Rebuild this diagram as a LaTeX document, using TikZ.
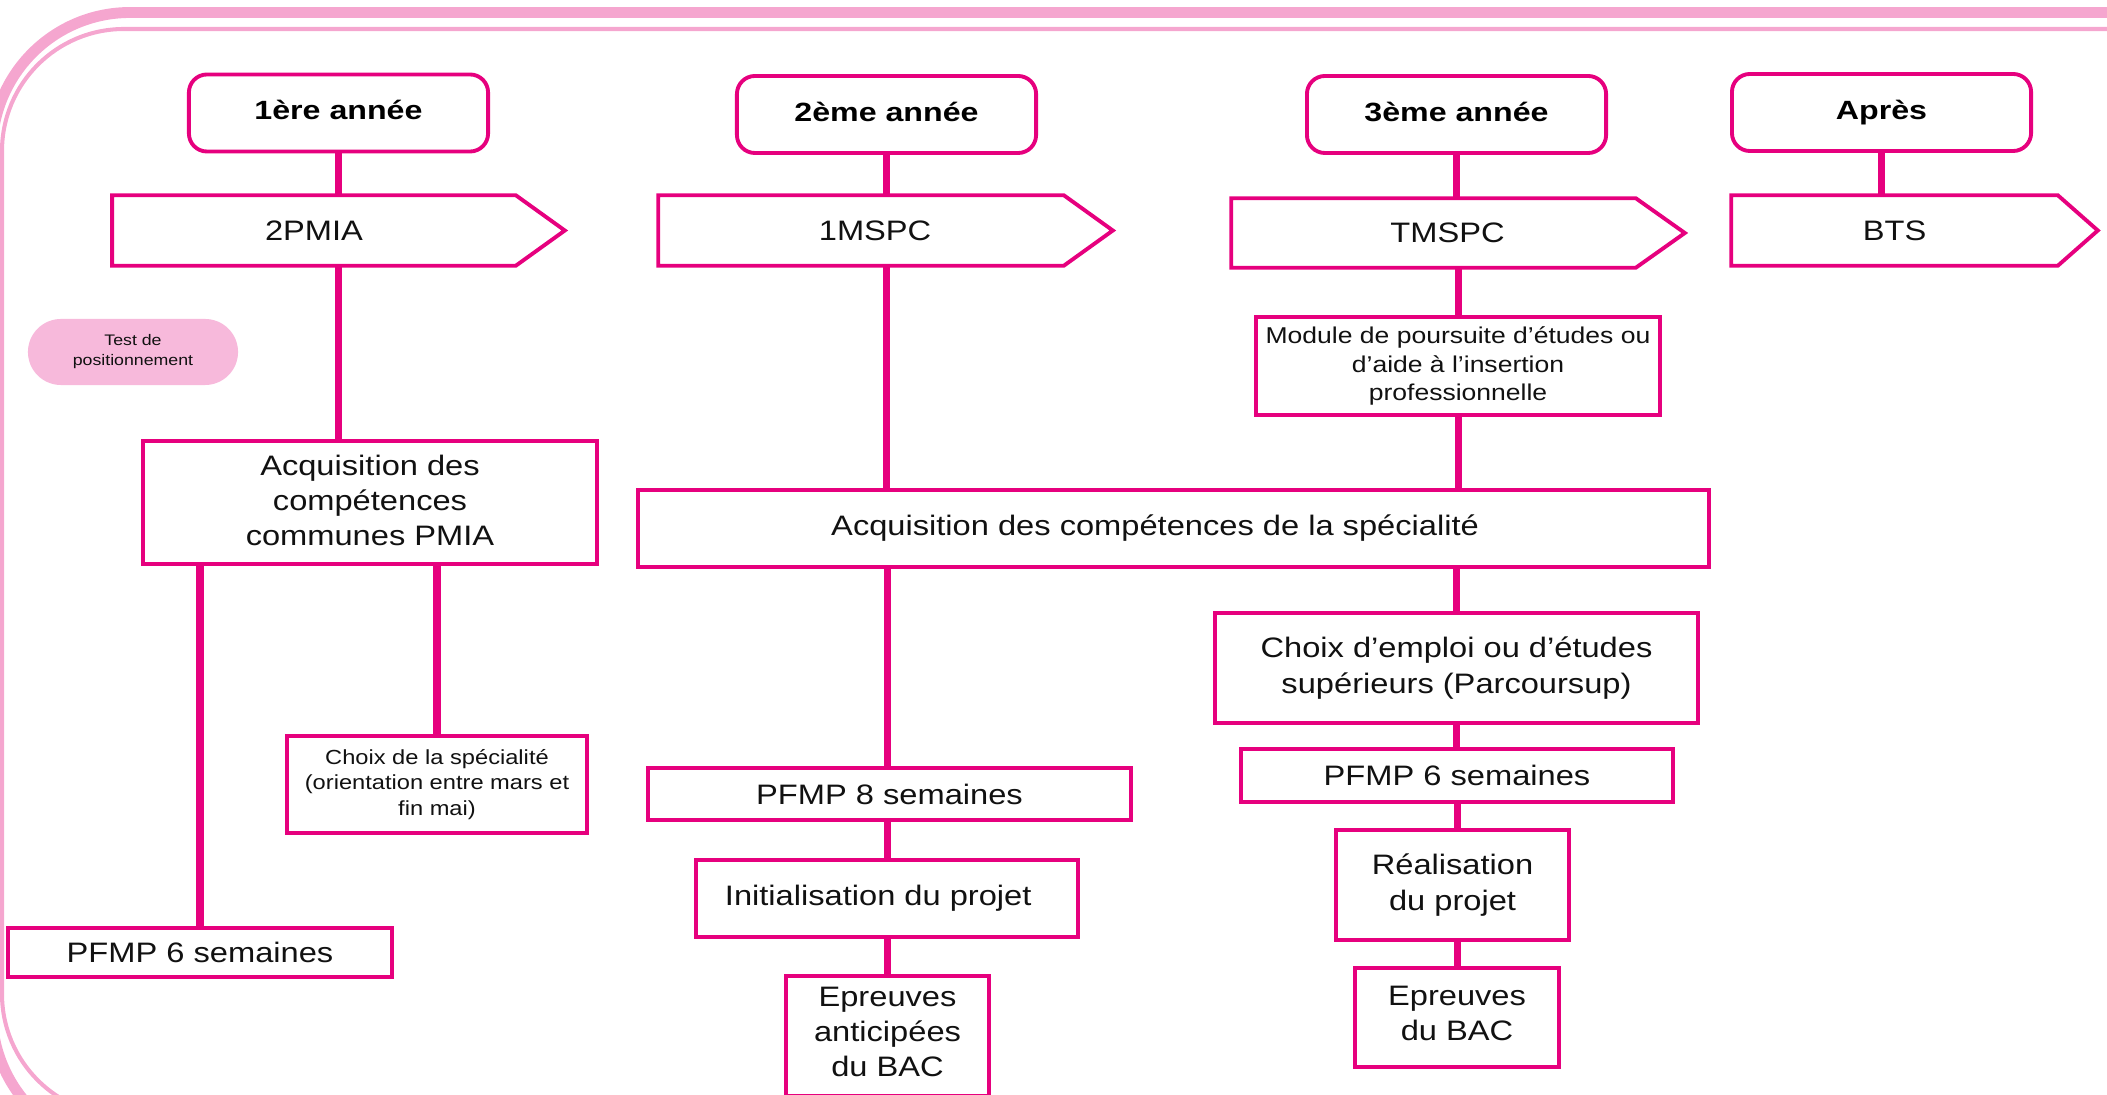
\documentclass[tikz,border=0pt]{standalone}
\usepackage{fontspec}
\setmainfont[FakeStretch=1.16]{Liberation Sans}
\newfontfamily\hdfont[FakeStretch=1.22]{Liberation Sans}
\usetikzlibrary{calc}
\definecolor{mag}{HTML}{E6007E}
\definecolor{pinkline}{HTML}{F5A6CF}
\definecolor{pinkfill}{HTML}{F7B9DB}
\definecolor{txt}{HTML}{111111}
\begin{document}
\begin{tikzpicture}[x=0.01cm,y=-0.01cm,
  box/.style={draw=mag,line width=1.1pt,fill=white,inner sep=0pt,align=center,text=txt,font=\fontsize{8}{10}\selectfont},
  head/.style={box,rounded corners=0.18cm,minimum width=2.99cm,minimum height=0.77cm,font=\hdfont\bfseries\fontsize{7.5}{9}\selectfont,text=black},
  sign/.style={inner sep=0pt,align=center,text=txt,font=\fontsize{8}{10}\selectfont,minimum height=0.69cm},
  sigline/.style={draw=mag,line width=1.1pt,line join=miter},
  link/.style={draw=mag,line width=2pt},
  pill/.style={fill=pinkfill,rounded corners=0.33cm,minimum width=2.1cm,minimum height=0.66cm,inner sep=0pt,align=center,text=txt,font=\fontsize{4.35}{5.7}\selectfont}
]
\useasboundingbox (0,0) rectangle (2107,1095);
\begin{scope}
\clip (0,0) rectangle (2107,1095);
\draw[pinkline,line width=3.1pt,rounded corners=1.38cm] (-8,12.5) rectangle (2300,1150);
\draw[pinkline,line width=1.15pt,rounded corners=1.22cm] (2,29) rectangle (2300,1116);
\end{scope}

% pill
\node[pill] (test) at (133,352) {Test de\\positionnement};

% headers
\node[head,text depth=0.06cm] (h1) at (338.5,113) {1ère année};
\node[head,text depth=0.06cm] (h2) at (886.5,114.5) {2ème année};
\node[head,text depth=0.06cm] (h3) at (1456.5,114.5) {3ème année};
\node[head] (h4) at (1881.5,112.5) {Après};

% signposts
\node[sign,minimum width=4.02cm] (a1) at (314,230.5) {2PMIA};
\node[sign,minimum width=4.04cm] (a2) at (861,230.5) {\hspace*{8pt}1MSPC};
\node[sign,minimum width=4.03cm,minimum height=0.68cm] (a3) at (1433.5,233) {\hspace*{8pt}TMSPC};
\node[sign,minimum width=3.25cm] (a4) at (1894.5,230.5) {BTS};
\draw[sigline] (a1.north west) -- (a1.north east) -- ($(a1.east)+(49,0)$) -- (a1.south east) -- (a1.south west) -- cycle;
\draw[sigline] (a2.north west) -- (a2.north east) -- ($(a2.east)+(49,0)$) -- (a2.south east) -- (a2.south west) -- cycle;
\draw[sigline] (a3.north west) -- (a3.north east) -- ($(a3.east)+(49,0)$) -- (a3.south east) -- (a3.south west) -- cycle;
\draw[sigline] (a4.north west) -- (a4.north east) -- ($(a4.east)+(40,0)$) -- (a4.south east) -- (a4.south west) -- cycle;

% boxes
\node[box,minimum width=4.54cm,minimum height=1.23cm,text depth=0.05cm] (acq1) at (370,502.5) {Acquisition des\\compétences\\communes PMIA};
\node[box,minimum width=3.0cm,minimum height=0.97cm,font=\fontsize{5.8}{7.25}\selectfont] (ch1) at (437,784.5) {Choix de la spécialité\\(orientation entre mars et\\fin mai)};
\node[box,minimum width=3.84cm,minimum height=0.49cm] (pf1) at (200,952.5) {PFMP 6 semaines};
\node[box,minimum width=10.71cm,minimum height=0.77cm] (big) at (1173.5,528.5) {Acquisition des compétences de la spécialité\hspace*{10.5pt}};
\node[box,minimum width=4.04cm,minimum height=0.98cm,font=\fontsize{6.5}{8.1}\selectfont] (mod) at (1458,366) {Module de poursuite d’études ou\\d’aide à l’insertion\\professionnelle};
\node[box,minimum width=4.83cm,minimum height=0.52cm] (pf8) at (889.5,794) {PFMP 8 semaines};
\node[box,minimum width=3.82cm,minimum height=0.77cm] (init) at (887,898.5) {Initialisation du projet\hspace*{5pt}};
\node[box,minimum width=2.03cm,minimum height=1.2cm,text depth=0.08cm] (epa) at (887.5,1036) {Epreuves\\anticipées\\du BAC};
\node[box,minimum width=4.83cm,minimum height=1.1cm] (ch2) at (1456.5,668) {Choix d’emploi ou d’études\\supérieurs (Parcoursup)};
\node[box,minimum width=4.32cm,minimum height=0.53cm] (pf6) at (1457,775.5) {PFMP 6 semaines};
\node[box,minimum width=2.33cm,minimum height=1.1cm] (real) at (1452.5,885) {Réalisation\\du projet};
\node[box,minimum width=2.04cm,minimum height=0.99cm,text depth=0.08cm] (epb) at (1457,1017.5) {Epreuves\\du BAC};

% connectors
\draw[link] (h1.south) -- (h1.south |- a1.north);
\draw[link] (h1.south |- a1.south) -- (h1.south |- acq1.north);
\draw[link] (pf1.north |- acq1.south) -- (pf1.north);
\draw[link] (ch1.north |- acq1.south) -- (ch1.north);
\draw[link] (h2.south) -- (h2.south |- a2.north);
\draw[link] (h2.south |- a2.south) -- (h2.south |- big.north);
\draw[link] (init.north |- big.south) -- (init.north |- pf8.north);
\draw[link] (init.north |- pf8.south) -- (init.north);
\draw[link] (init.south) -- (init.south |- epa.north);
\draw[link] (h3.south) -- (h3.south |- a3.north);
\draw[link] (mod.north |- a3.south) -- (mod.north);
\draw[link] (mod.south) -- (mod.south |- big.north);
\draw[link] (ch2.north |- big.south) -- (ch2.north);
\draw[link] (ch2.south) -- (ch2.south |- pf6.north);
\draw[link] (pf6.south) -- (pf6.south |- real.north);
\draw[link] (epb.north |- real.south) -- (epb.north);
\draw[link] (h4.south) -- (h4.south |- a4.north);
\end{tikzpicture}
\end{document}
